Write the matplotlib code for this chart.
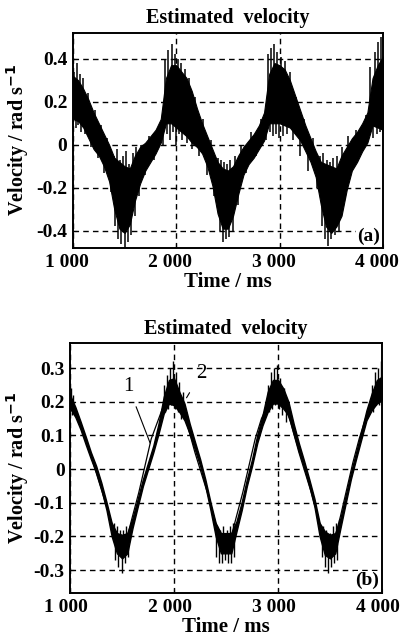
import matplotlib
matplotlib.use('Agg')
import matplotlib.pyplot as plt
from matplotlib.transforms import ScaledTranslation

# panel (a) -- noisy estimate, dense band read every 50 ms
time_a = [1000 + 50 * i for i in range(61)]
upper_a = [0.32, 0.30, 0.26, 0.21, 0.15, 0.10, 0.05, 0.00, -0.06, -0.08, -0.10, -0.11, -0.05, -0.01, 0.01,
           0.04, 0.07, 0.12, 0.31, 0.37, 0.37, 0.34, 0.31, 0.25, 0.17, 0.10, 0.04, -0.02, -0.08, -0.11,
           -0.12, -0.10, -0.05, -0.01, 0.02, 0.05, 0.09, 0.15, 0.33, 0.38, 0.37, 0.35, 0.30, 0.23, 0.16,
           0.09, 0.03, -0.03, -0.08, -0.09, -0.10, -0.11, -0.05, -0.01, 0.03, 0.06, 0.10, 0.15, 0.31, 0.37, 0.41]
lower_a = [0.12, 0.11, 0.08, 0.03, -0.02, -0.05, -0.10, -0.17, -0.30, -0.39, -0.41, -0.37, -0.26, -0.18, -0.12,
           -0.08, -0.04, 0.01, 0.10, 0.10, 0.08, 0.06, 0.04, 0.01, -0.01, -0.04, -0.10, -0.19, -0.32, -0.39,
           -0.39, -0.33, -0.23, -0.14, -0.09, -0.06, -0.02, 0.02, 0.10, 0.10, 0.10, 0.09, 0.08, 0.05, 0.02,
           -0.03, -0.08, -0.15, -0.28, -0.38, -0.41, -0.38, -0.33, -0.21, -0.12, -0.08, -0.03, 0.01, 0.09, 0.08, 0.07]

# spikes sticking out of the band: (time, tip value)
spikes_a = [
    (1010, 0.34), (1025, 0.08), (1035, 0.38), (1050, 0.09), (1065, 0.33), (1080, 0.06), (1095, 0.31),
    (1120, 0.05), (1150, 0.24), (1175, -0.01), (1210, 0.16), (1240, -0.06), (1270, 0.09), (1300, -0.13),
    (1330, 0.03), (1365, -0.22), (1395, -0.05),
    (1410, -0.38), (1425, -0.02), (1440, -0.44), (1455, -0.07), (1470, -0.46), (1485, -0.05), (1500, -0.48),
    (1515, -0.03), (1530, -0.45), (1545, -0.09), (1560, -0.42), (1580, -0.04), (1600, -0.33), (1615, -0.01),
    (1635, -0.24),
    (1660, 0.00), (1700, -0.14), (1740, 0.04), (1780, -0.07), (1820, 0.08), (1870, 0.00),
    (1895, 0.40), (1910, 0.05), (1925, 0.44), (1940, 0.02), (1955, 0.47), (1970, 0.06), (1985, 0.42),
    (2000, 0.00), (2015, 0.40), (2030, 0.05), (2045, 0.38), (2060, 0.02), (2080, 0.35), (2100, 0.01),
    (2120, 0.31), (2150, -0.02), (2180, 0.22), (2220, -0.05), (2260, 0.12), (2300, -0.14), (2340, 0.02),
    (2370, -0.24),
    (2400, -0.06), (2420, -0.40), (2435, -0.07), (2450, -0.45), (2465, -0.08), (2480, -0.44), (2495, -0.09),
    (2510, -0.43), (2525, -0.07), (2545, -0.40), (2570, -0.05), (2600, -0.28), (2630, 0.00),
    (2680, -0.13), (2720, 0.06), (2770, -0.05), (2820, 0.12), (2870, 0.02),
    (2890, 0.42), (2905, 0.06), (2920, 0.45), (2935, 0.04), (2950, 0.47), (2965, 0.05), (2980, 0.43),
    (2995, 0.03), (3010, 0.41), (3030, 0.04), (3050, 0.39), (3075, 0.05), (3100, 0.34),
    (3130, 0.02), (3160, 0.22), (3200, -0.05), (3240, 0.12), (3280, -0.12), (3320, 0.03), (3360, -0.20),
    (3390, -0.05), (3410, -0.38), (3425, -0.04), (3440, -0.44), (3455, -0.07), (3470, -0.47), (3485, -0.08),
    (3500, -0.44), (3520, -0.06), (3540, -0.42), (3560, -0.05), (3580, -0.40), (3600, -0.01), (3630, -0.25),
    (3660, 0.04), (3700, -0.12), (3740, 0.07), (3790, -0.04), (3840, 0.14),
    (3880, 0.36), (3900, 0.03), (3920, 0.43), (3940, 0.05), (3955, 0.48), (3970, 0.06), (3985, 0.50),
    (3995, 0.08),
]

# panel (b) -- curve 2 (noisy estimate) centre line and band half width
time_b = [1000 + 50 * i for i in range(61)]
centre_b = [0.20, 0.17, 0.13, 0.085, 0.04, 0.00, -0.05, -0.11, -0.18, -0.22, -0.23, -0.22, -0.16, -0.10, -0.04,
            0.01, 0.06, 0.12, 0.19, 0.23, 0.23, 0.20, 0.17, 0.12, 0.07, 0.02, -0.04, -0.11, -0.18, -0.22,
            -0.22, -0.22, -0.17, -0.11, -0.04, 0.02, 0.09, 0.145, 0.20, 0.23, 0.23, 0.21, 0.18, 0.12, 0.065,
            0.015, -0.04, -0.10, -0.18, -0.22, -0.23, -0.22, -0.16, -0.09, -0.02, 0.04, 0.10, 0.16, 0.20, 0.23, 0.24]
spread_b = [0.02, 0.015, 0.012, 0.012, 0.01, 0.01, 0.01, 0.012, 0.02, 0.03, 0.035, 0.03, 0.015, 0.012, 0.01,
            0.01, 0.01, 0.015, 0.025, 0.035, 0.04, 0.03, 0.025, 0.015, 0.012, 0.01, 0.01, 0.012, 0.02, 0.03,
            0.03, 0.03, 0.015, 0.012, 0.01, 0.01, 0.012, 0.015, 0.03, 0.035, 0.035, 0.03, 0.02, 0.015, 0.012,
            0.01, 0.01, 0.012, 0.02, 0.035, 0.035, 0.03, 0.015, 0.012, 0.01, 0.01, 0.012, 0.015, 0.025, 0.035, 0.035]
spikes_b = [
    (1005, 0.24), (1015, 0.16), (1030, 0.22),
    (1420, -0.16), (1435, -0.27), (1450, -0.17), (1465, -0.29), (1480, -0.18), (1495, -0.31), (1510, -0.18),
    (1525, -0.28), (1540, -0.17), (1560, -0.26),
    (1900, 0.25), (1915, 0.17), (1930, 0.28), (1945, 0.18), (1960, 0.30), (1975, 0.19), (1990, 0.32),
    (2005, 0.18), (2020, 0.29), (2035, 0.17), (2050, 0.26), (2070, 0.15), (2090, 0.23), (2110, 0.14),
    (2400, -0.26), (2415, -0.17), (2430, -0.28), (2445, -0.18), (2460, -0.28), (2475, -0.17), (2490, -0.27),
    (2505, -0.18), (2520, -0.28), (2535, -0.17), (2550, -0.28), (2565, -0.16), (2580, -0.26),
    (2900, 0.25), (2915, 0.17), (2930, 0.29), (2945, 0.18), (2960, 0.30), (2975, 0.19), (2990, 0.31),
    (3005, 0.18), (3020, 0.27), (3040, 0.16), (3060, 0.24), (3080, 0.14),
    (3420, -0.26), (3435, -0.17), (3450, -0.29), (3465, -0.18), (3480, -0.31), (3495, -0.19), (3510, -0.29),
    (3525, -0.17), (3540, -0.28), (3555, -0.16), (3570, -0.27), (3590, -0.15),
    (3900, 0.25), (3915, 0.17), (3930, 0.29), (3945, 0.19), (3960, 0.30), (3975, 0.19), (3990, 0.32),
    (4000, 0.21),
]

# curve 1 (reference velocity) as a thin polyline
time_ref = [1000, 1050, 1120, 1200, 1260, 1320, 1400, 1450, 1500, 1550, 1600, 1660, 1720, 1780, 1840, 1900,
            1950, 2000, 2050, 2120, 2200, 2260, 2320, 2400, 2450, 2500, 2550, 2600, 2660, 2720, 2780, 2840,
            2900, 2950, 3000, 3050, 3120, 3200, 3260, 3320, 3400, 3450, 3500, 3550, 3600, 3660, 3720, 3780,
            3840, 3900, 3950, 4000]
value_ref = [0.21, 0.18, 0.12, 0.04, -0.02, -0.08, -0.16, -0.20, -0.22, -0.20, -0.14, -0.07, 0.01, 0.09, 0.14,
             0.19, 0.21, 0.22, 0.20, 0.14, 0.05, -0.01, -0.07, -0.16, -0.20, -0.22, -0.20, -0.14, -0.07, 0.01,
             0.09, 0.15, 0.19, 0.21, 0.22, 0.20, 0.14, 0.05, -0.01, -0.07, -0.16, -0.20, -0.22, -0.20, -0.14,
             -0.06, 0.02, 0.09, 0.15, 0.19, 0.21, 0.22]

xticks = [1000, 2000, 3000, 4000]
xtick_labels = ['1 000', '2 000', '3 000', '4 000']
yticks_a = [-0.4, -0.2, 0, 0.2, 0.4]
ytick_labels_a = ['-0.4', '-0.2', '0', '0.2', '0.4']
yticks_b = [-0.3, -0.2, -0.1, 0, 0.1, 0.2, 0.3]
ytick_labels_b = ['-0.3', '-0.2', '-0.1', '0', '0.1', '0.2', '0.3']

plt.rcParams['font.family'] = ['Liberation Serif', 'DejaVu Serif']
plt.rcParams['font.weight'] = 'bold'


def nearest(times, values, t):
    i = min(range(len(times)), key=lambda k: abs(times[k] - t))
    return values[i]


def draw_spikes(ax, spikes, times, base, lw):
    st = [s[0] for s in spikes]
    sv = [s[1] for s in spikes]
    ax.vlines(st, [nearest(times, base, t) for t in st], sv, color='black', linewidth=lw)


def style_axes(ax, yticks, ylabels, ylim, label_x, tag, shift_px):
    ax.set_xlim(1000, 4000)
    ax.set_ylim(*ylim)
    ax.set_xticks(xticks)
    ax.set_xticklabels(xtick_labels)
    ax.set_yticks(yticks)
    ax.set_yticklabels(ylabels)
    ax.tick_params(direction='in', length=3, labelsize=14, pad=4)
    # the printed labels sit a little left of their ticks
    offset = ScaledTranslation(shift_px / 100, 0, ax.figure.dpi_scale_trans)
    for lab in ax.get_xticklabels():
        lab.set_transform(lab.get_transform() + offset)
    ax.grid(True, color='black', linestyle=(0, (4, 3)), linewidth=1.0)
    ax.set_axisbelow(True)
    for s in ax.spines.values():
        s.set_linewidth(1.4)
    ax.set_title('Estimated  velocity', fontsize=14.5, fontweight='bold', pad=7)
    ax.set_xlabel('Time / ms', fontsize=15, fontweight='bold', labelpad=1)
    ax.set_ylabel('Velocity / rad s$^{\\mathbf{-1}}$', fontsize=14.5, fontweight='bold')
    ax.yaxis.set_label_coords(label_x, 0.5)
    ax.text(0.99, 0.015, tag, transform=ax.transAxes, ha='right', va='bottom', fontsize=14,
            fontweight='bold', bbox=dict(facecolor='white', edgecolor='none', pad=0.5))


fig = plt.figure(figsize=(4.03, 6.42), dpi=100)

ax1 = fig.add_axes([0.181, 0.6137, 0.769, 0.335])
ax1.fill_between(time_a, lower_a, upper_a, color='black', linewidth=0.8, edgecolor='black')
mid_a = [(u + l) / 2 for u, l in zip(upper_a, lower_a)]
draw_spikes(ax1, spikes_a, time_a, mid_a, 1.1)
style_axes(ax1, yticks_a, ytick_labels_a, (-0.48, 0.52), -0.135, '(a)', -6)

ax2 = fig.add_axes([0.174, 0.0763, 0.774, 0.389])
low_b = [c - s for c, s in zip(centre_b, spread_b)]
high_b = [c + s for c, s in zip(centre_b, spread_b)]
ax2.fill_between(time_b, low_b, high_b, color='black', linewidth=1.0, edgecolor='black')
draw_spikes(ax2, spikes_b, time_b, centre_b, 1.0)
ax2.plot(time_ref, value_ref, color='black', linewidth=0.9)
style_axes(ax2, yticks_b, ytick_labels_b, (-0.368, 0.374), -0.125, '(b)', -4)

# curve labels with leader lines
ax2.annotate('1', xy=(1779, 0.07), xytext=(1560, 0.245), fontsize=15, fontweight='normal',
             ha='center', va='center', arrowprops=dict(arrowstyle='-', color='black', lw=0.8, shrinkA=6))
ax2.annotate('2', xy=(2106, 0.205), xytext=(2260, 0.285), fontsize=15, fontweight='normal',
             ha='center', va='center', arrowprops=dict(arrowstyle='-', color='black', lw=0.8, shrinkA=6))

fig.savefig('out.png', dpi=100)
